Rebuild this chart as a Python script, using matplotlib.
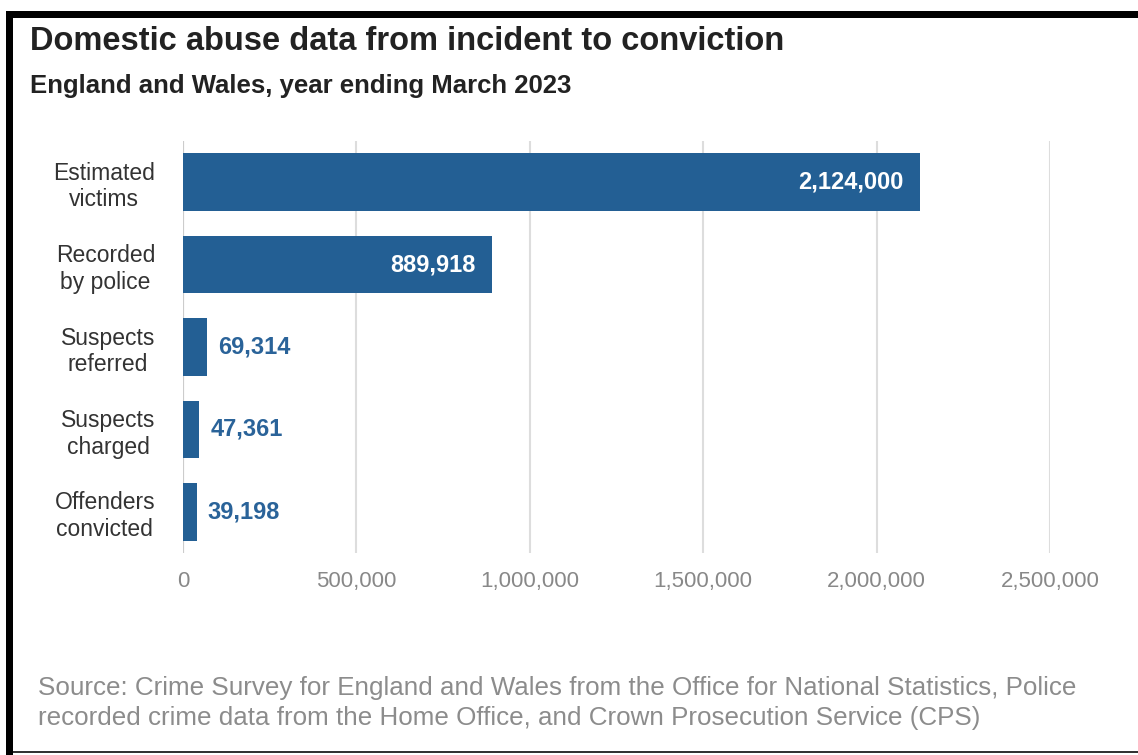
import matplotlib.pyplot as plt
from matplotlib.patches import Rectangle
from matplotlib.ticker import FuncFormatter

categories = ["Estimated\nvictims", "Recorded\nby police", "Suspects\nreferred",
              "Suspects\ncharged", "Offenders\nconvicted"]
values = [2124000, 889918, 69314, 47361, 39198]
ticks = [0, 500000, 1000000, 1500000, 2000000, 2500000]

W, H = 1138, 755
bar_color = "#235f94"
label_blue = "#2a6399"

plt.rcParams['font.family'] = ['Liberation Sans', 'DejaVu Sans']

fig = plt.figure(figsize=(W / 100, H / 100), dpi=100)
ax = fig.add_axes([183 / W, 1 - 553 / H, (1050 - 183) / W, (553 - 141) / H])

ypos = list(range(len(categories)))
ax.barh(ypos, values, height=0.7, color=bar_color, zorder=3)
ax.set_ylim(len(categories) - 0.5, -0.5)
ax.set_xlim(0, 2500000)

ax.set_yticks(ypos)
ax.set_yticklabels(categories, fontsize=16.5, color="#333333",
                   multialignment="center")
ax.tick_params(axis="y", length=0, pad=20)

ax.set_xticks(ticks)
ax.xaxis.set_major_formatter(FuncFormatter(lambda v, p: f"{int(v):,}"))
ax.tick_params(axis="x", length=0, pad=13, labelsize=16, labelcolor="#888888")

ax.grid(axis="x", color="#dddddd", linewidth=1.5, zorder=0)
for s in ax.spines.values():
    s.set_visible(False)
ax.axvline(0, color="#cccccc", linewidth=1.5, zorder=2)

for y, v in zip(ypos, values):
    if v > 500000:
        ax.annotate(f"{v:,}", (v, y), xytext=(-16, 0), textcoords="offset pixels",
                    ha="right", va="center", fontsize=17, fontweight="bold",
                    color="white", zorder=4)
    else:
        ax.annotate(f"{v:,}", (v, y), xytext=(11, 0), textcoords="offset pixels",
                    ha="left", va="center", fontsize=17, fontweight="bold",
                    color=label_blue, zorder=4)

fig.text(30 / W, 1 - 42 / H, "Domestic abuse data from incident to conviction",
         fontsize=23.5, fontweight="bold", color="#222222", va="center", ha="left")
fig.text(30 / W, 1 - 86 / H, "England and Wales, year ending March 2023",
         fontsize=18.5, fontweight="bold", color="#222222", va="center", ha="left")
fig.text(38 / W, 1 - 703 / H,
         "Source: Crime Survey for England and Wales from the Office for National Statistics, Police\n"
         "recorded crime data from the Home Office, and Crown Prosecution Service (CPS)",
         fontsize=18.7, color="#8c8c8c", va="center", ha="left", linespacing=1.3)

# frame around the picture
fig.add_artist(Rectangle((6 / W, 1 - 18 / H), (W - 6) / W, 7 / H,
                         transform=fig.transFigure, color="black", lw=0))
fig.add_artist(Rectangle((6 / W, 0), 7 / W, 1 - 11 / H,
                         transform=fig.transFigure, color="black", lw=0))
fig.add_artist(Rectangle((13 / W, 1 - 753 / H), (W - 13) / W, 2 / H,
                         transform=fig.transFigure, color="#333333", lw=0))

fig.savefig("out.png", dpi=100)
